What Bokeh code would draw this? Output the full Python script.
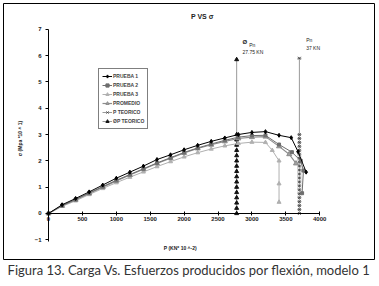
from bokeh.plotting import figure
from bokeh.models import Label, Legend, LegendItem, Range1d, Title, FixedTicker
from bokeh.embed import file_html
from bokeh.resources import INLINE

# ---- data (P in KN*10^-2, sigma in Mpa*10^1) ----
p1_x = [0, 200, 400, 600, 800, 1000, 1200, 1400, 1600, 1800, 2000, 2200, 2400, 2600, 2800, 3000, 3200, 3400, 3580, 3680, 3800]
p1_y = [0, 0.33, 0.57, 0.82, 1.08, 1.34, 1.57, 1.80, 2.05, 2.23, 2.42, 2.59, 2.74, 2.87, 3.00, 3.08, 3.11, 2.97, 2.88, 2.35, 1.57]

p2_x = [0, 200, 400, 600, 800, 1000, 1200, 1400, 1600, 1800, 2000, 2200, 2400, 2600, 2800, 3000, 3200, 3400, 3590, 3720, 3760, 3740]
p2_y = [0, 0.30, 0.53, 0.78, 1.02, 1.26, 1.48, 1.70, 1.92, 2.12, 2.32, 2.49, 2.64, 2.78, 2.90, 2.96, 2.97, 2.62, 2.33, 2.00, 1.63, 0.77]

p3_x = [0, 200, 400, 600, 800, 1000, 1200, 1400, 1600, 1800, 2000, 2200, 2400, 2600, 2800, 3000, 3200, 3300, 3400, 3400, 3400]
p3_y = [0, 0.27, 0.48, 0.72, 0.95, 1.17, 1.38, 1.58, 1.78, 1.97, 2.15, 2.31, 2.45, 2.57, 2.66, 2.71, 2.70, 2.40, 2.00, 1.13, 0.43]

prom_x = [0, 200, 400, 600, 800, 1000, 1200, 1400, 1600, 1800, 2000, 2200, 2400, 2600, 2800, 3000, 3200, 3400, 3550, 3650]
prom_y = [0, 0.29, 0.52, 0.76, 1.00, 1.24, 1.46, 1.68, 1.90, 2.10, 2.30, 2.47, 2.61, 2.74, 2.85, 2.90, 2.92, 2.55, 2.25, 1.90]

pteo_x = [3700, 3700, 3700, 3700, 3700, 3700, 3700, 3700, 3700, 3700, 3700, 3700, 3700, 3700, 3700, 3700, 3700, 3700, 3700, 3700, 3700, 3700]
pteo_y = [0, 0.15, 0.30, 0.45, 0.60, 0.75, 0.90, 1.05, 1.20, 1.35, 1.50, 1.65, 1.80, 1.95, 2.10, 2.25, 2.40, 2.55, 2.70, 2.85, 3.00, 5.90]

phi_x = [2775, 2775, 2775, 2775, 2775, 2775, 2775, 2775, 2775, 2775, 2775, 2775, 2775, 2775, 2775, 2775, 2775]
phi_y = [0, 0.2, 0.4, 0.6, 0.8, 1.0, 1.2, 1.4, 1.6, 1.8, 2.0, 2.2, 2.4, 2.6, 2.8, 3.0, 5.85]

x_ticks = [0, 500, 1000, 1500, 2000, 2500, 3000, 3500, 4000]
y_ticks = [-1, 0, 1, 2, 3, 4, 5, 6, 7]

title_text = "P VS σ"
xlabel_text = "P (KN* 10 ^-2)"
ylabel_text = "σ (Mpa *10 ^ 1)"
caption_text = "Figura 13. Carga Vs. Esfuerzos producidos por flexión, modelo 1"

FONT = "Liberation Sans"

p = figure(width=379, height=286, output_backend="svg", toolbar_location=None,
           x_range=Range1d(-664, 4808), y_range=Range1d(-1.75, 7.98),
           min_border_left=3, min_border_right=5, min_border_top=3, min_border_bottom=27)
p.background_fill_color = "white"
p.border_fill_color = "white"
p.outline_line_color = "black"
p.outline_line_width = 1
p.xgrid.visible = False
p.ygrid.visible = False

for ax in (p.xaxis[0], p.yaxis[0]):
    ax.fixed_location = 0
    ax.axis_line_color = "black"
    ax.axis_line_width = 1
    ax.major_tick_line_color = "black"
    ax.minor_tick_line_color = None
    ax.major_label_text_font = FONT
    ax.major_label_text_font_size = "6px"
    ax.major_label_text_font_style = "bold"
    ax.major_label_text_color = "#222222"
    ax.axis_label = None

p.xaxis[0].ticker = FixedTicker(ticks=x_ticks)
p.yaxis[0].ticker = FixedTicker(ticks=y_ticks)
p.xaxis[0].bounds = (0, 4000)
p.yaxis[0].bounds = (-1.05, 7)
p.xaxis[0].major_tick_in = 2
p.xaxis[0].major_tick_out = 2
p.yaxis[0].major_tick_in = 0
p.yaxis[0].major_tick_out = 3
p.xaxis[0].major_label_standoff = 2
p.yaxis[0].major_label_standoff = 4

r_phi_l = p.line(phi_x, phi_y, line_color="#999999", line_width=1)
r_phi_m = p.scatter(phi_x, phi_y, marker="triangle", size=4, fill_color="#111111", line_color="#111111")

r_pt_l = p.line(pteo_x, pteo_y, line_color="#999999", line_width=1)
r_pt_m = p.scatter(pteo_x, pteo_y, marker="x", size=4, line_color="#444444", line_width=0.9)
r_pt_m2 = p.scatter(pteo_x, pteo_y, marker="dash", size=4, line_color="#444444", line_width=0.7)

r3_l = p.line(p3_x, p3_y, line_color="#b0b0b0", line_width=1)
r3_m = p.scatter(p3_x, p3_y, marker="triangle", size=4, fill_color="#b0b0b0", line_color="#b0b0b0")

rpr_l = p.line(prom_x, prom_y, line_color="#8c8c8c", line_width=1.2)
rpr_m = p.scatter(prom_x, prom_y, marker="triangle", size=5, fill_color="#a0a0a0", line_color="#8c8c8c")

r2_l = p.line(p2_x, p2_y, line_color="#6e6e6e", line_width=1)
r2_m = p.scatter(p2_x, p2_y, marker="square", size=3, fill_color="#6e6e6e", line_color="#6e6e6e")

r1_l = p.line(p1_x, p1_y, line_color="black", line_width=1)
r1_m = p.scatter(p1_x, p1_y, marker="diamond", size=4, fill_color="black", line_color="black")

legend = Legend(items=[
    LegendItem(label="PRUEBA 1", renderers=[r1_l, r1_m]),
    LegendItem(label="PRUEBA 2", renderers=[r2_l, r2_m]),
    LegendItem(label="PRUEBA 3", renderers=[r3_l, r3_m]),
    LegendItem(label="PROMEDIO", renderers=[rpr_l, rpr_m]),
    LegendItem(label="P TEORICO", renderers=[r_pt_l, r_pt_m]),
    LegendItem(label="ØP TEORICO", renderers=[r_phi_l, r_phi_m]),
], location=(95, 130))
legend.border_line_color = "black"
legend.border_line_width = 1
legend.background_fill_color = "white"
legend.label_text_font = FONT
legend.label_text_font_size = "5px"
legend.label_text_font_style = "bold"
legend.glyph_width = 10
legend.glyph_height = 8
legend.label_height = 8
legend.label_standoff = 1
legend.spacing = 1
legend.padding = 3
legend.margin = 0
p.add_layout(legend, "center")

def lab(x, y, text, size="6px", style="bold", **kw):
    l = Label(x=x, y=y, text=text, text_font=FONT, text_font_size=size,
              text_font_style=style, text_color="#222222", **kw)
    p.add_layout(l)

lab(2100, 7.35, title_text, size="7px")
lab(2860, 6.40, "Ø", size="6px")
lab(2960, 6.28, "Pn", size="5px", style="normal")
lab(2860, 6.02, "27.75 KN", size="5px", style="normal")
lab(3800, 6.48, "Pn", size="5px", style="normal")
lab(3800, 6.18, "37 KN", size="5px", style="normal")
lab(1700, -1.3, xlabel_text, size="5px", text_baseline="middle")
lab(-420, 2.85, ylabel_text, size="5px", angle=1.5708, text_align="center", text_baseline="middle")

cap = Title(text=caption_text, align="center", text_font="Lato", text_font_size="13px",
            text_font_style="normal", text_color="#333333", standoff=0, offset=0)
p.add_layout(cap, "below")

open("out.html", "w").write(file_html(p, INLINE))
